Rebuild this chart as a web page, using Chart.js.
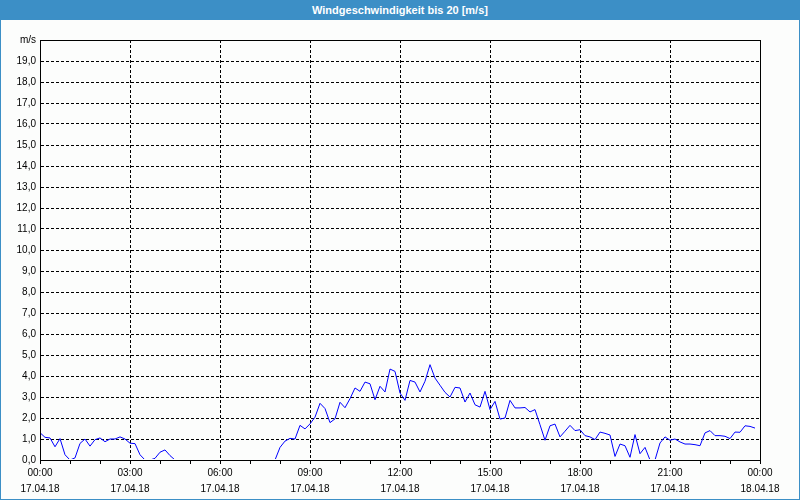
<!DOCTYPE html>
<html><head><meta charset="utf-8">
<script src="https://cdn.jsdelivr.net/npm/chart.js@4.4.0/dist/chart.umd.min.js"></script>
<style>
html,body{margin:0;padding:0;background:#fcfdfc;}
#wrap{position:relative;width:800px;height:500px;overflow:hidden;background:#fcfdfc;}
#title{position:absolute;left:0;top:0;width:800px;height:20px;background:#3c8fc6;color:#fff;font:bold 11px "Liberation Sans",sans-serif;line-height:20px;text-align:center;}
#frame{position:absolute;left:0;top:0;width:800px;height:500px;box-sizing:border-box;border:1px solid #3c8fc6;pointer-events:none;}
canvas{position:absolute;left:0;top:0;}
</style></head><body>
<div id="wrap"><canvas id="c" width="800" height="500"></canvas><div id="title"></div><div id="frame"></div></div>
<script>
const chartTitle = 'Windgeschwindigkeit bis 20 [m/s]';
const unitLabel = 'm/s';
const startDate = '17.04.18';
const endDate = '18.04.18';
const intervalMinutes = 10;
// wind speed [m/s], one value every 10 minutes from 17.04.18 00:00
const windSpeed = [
 1.30,1.08,1.05,0.63,1.02,0.25,0.00,0.10,0.79,1.00,0.66,0.97,
 1.05,0.87,1.00,1.00,1.10,1.00,0.80,0.78,0.25,0.00,0.00,0.08,
 0.37,0.48,0.21,0.00,0.00,0.00,0.00,0.00,0.00,0.00,0.00,0.00,
 0.00,0.00,0.00,0.00,0.00,0.00,0.00,0.00,0.00,0.00,0.00,0.00,
 0.60,0.90,1.03,1.00,1.65,1.48,1.72,2.04,2.70,2.45,1.78,1.96,
 2.75,2.49,2.92,3.43,3.27,3.71,3.63,2.87,3.51,3.24,4.33,4.22,
 3.19,2.84,3.79,3.71,3.24,3.75,4.54,3.90,3.56,3.22,3.00,3.46,
 3.43,2.76,3.19,2.63,2.52,3.27,2.40,2.79,1.95,2.00,2.84,2.48,
 2.48,2.50,2.29,2.40,1.68,0.94,1.63,1.71,1.10,1.37,1.65,1.40,
 1.44,1.16,1.10,0.97,1.33,1.27,1.19,0.17,0.76,0.68,0.13,1.21,
 0.30,0.60,0.00,0.00,0.81,1.10,0.94,1.00,0.86,0.76,0.76,0.73,
 0.68,1.29,1.40,1.16,1.16,1.13,1.02,1.33,1.32,1.63,1.60,1.52
];
const yMin = 0, yMax = 20, yStep = 1;
const xMin = 0, xMax = 1440, xStep = 60, labelEvery = 180;

document.getElementById('title').textContent = chartTitle;

const points = windSpeed.map((v, i) => ({ x: i * intervalMinutes, y: v }));

function timeLabel(m) {
  const h = Math.floor((m % 1440) / 60), mm = m % 60;
  return String(h).padStart(2, '0') + ':' + String(mm).padStart(2, '0');
}

const framePlugin = {
  id: 'frame',
  afterDraw(chart) {
    const a = chart.chartArea, ctx = chart.ctx;
    ctx.save();
    ctx.strokeStyle = '#000';
    ctx.lineWidth = 1;
    ctx.strokeRect(Math.round(a.left) + 0.5, Math.round(a.top) + 0.5, Math.round(a.right - a.left), Math.round(a.bottom - a.top));
    ctx.restore();
  }
};

const font = { family: '"Liberation Sans", Arial, sans-serif', size: 10 };

new Chart(document.getElementById('c'), {
  type: 'line',
  data: { datasets: [{ data: points, borderColor: '#0000ff', borderWidth: 1, pointRadius: 0, tension: 0, fill: false,
                       clip: { left: 1, top: 1, right: 1, bottom: -1 } }] },
  options: {
    responsive: false, animation: false,
    layout: { padding: { left: 0, right: 40, top: 40, bottom: 0 } },
    plugins: { legend: { display: false }, tooltip: { enabled: false }, title: { display: false } },
    scales: {
      x: {
        type: 'linear', min: xMin, max: xMax,
        afterFit(s) { s.height = 40; },
        ticks: {
          stepSize: xStep, autoSkip: false, maxRotation: 0, padding: 1, color: '#000',
          font: { ...font, lineHeight: 1.6 },
          callback(v) {
            if (v % labelEvery !== 0) return '';
            return [timeLabel(v), v >= 1440 ? endDate : startDate];
          }
        },
        grid: {
          color: c => (c.tick && c.tick.value % labelEvery === 0 && c.tick.value > xMin && c.tick.value < xMax) ? '#000' : 'rgba(0,0,0,0)',
          tickColor: '#000', tickLength: 4, lineWidth: 1
        },
        border: { color: '#000', width: 1, dash: [3, 2] }
      },
      y: {
        min: yMin, max: yMax,
        afterFit(s) { s.width = 40; },
        ticks: {
          stepSize: yStep, padding: 4, color: '#000', font,
          callback(v) { return v === yMax ? unitLabel : v.toFixed(1).replace('.', ','); }
        },
        grid: {
          drawTicks: false,
          color: c => (c.tick && c.tick.value > yMin && c.tick.value < yMax) ? '#000' : 'rgba(0,0,0,0)',
          lineWidth: 1
        },
        border: { color: '#000', width: 1, dash: [3, 2] }
      }
    }
  },
  plugins: [framePlugin]
});
</script>
</body></html>
